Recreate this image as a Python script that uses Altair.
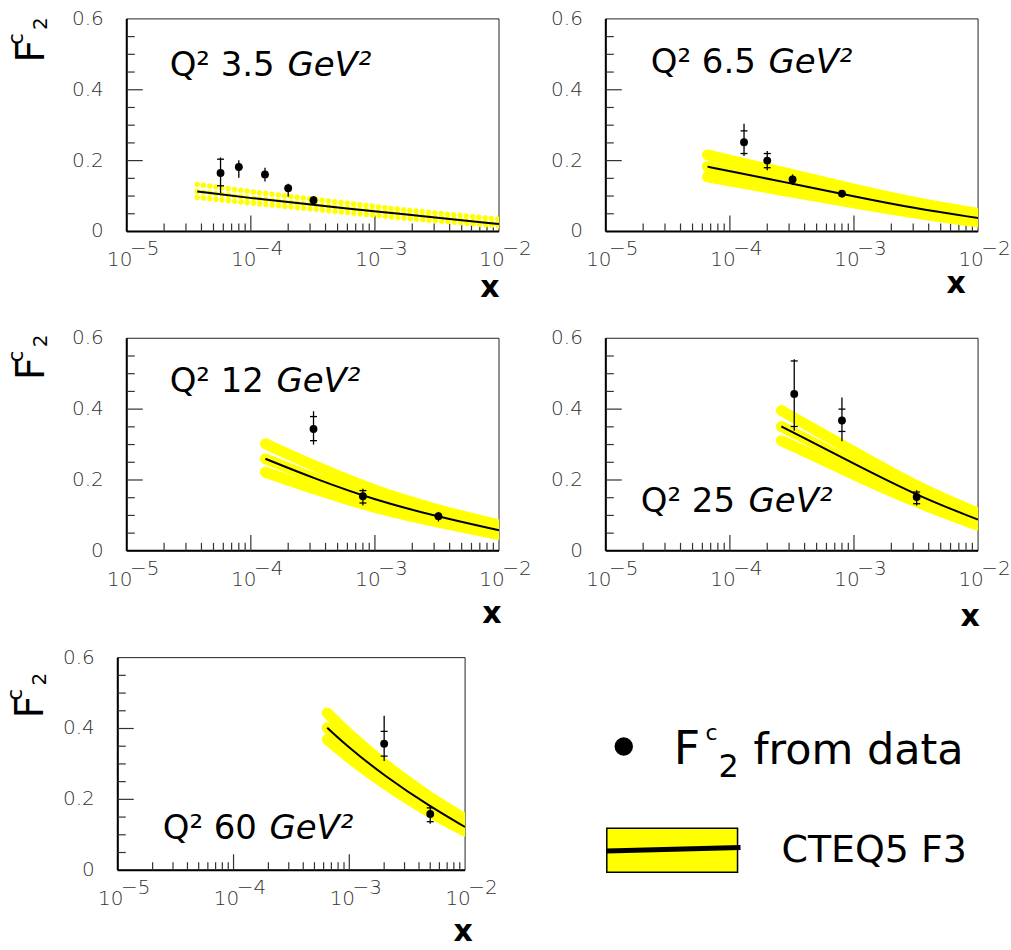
import altair as alt
import pandas as pd

FONT = "DejaVu Sans"
W, H = 373, 213
GAP = 107
YELLOW = "#ffff00"

# ---------------- axis ticks and labels ----------------
Y_MINOR = [0.05, 0.10, 0.15, 0.25, 0.30, 0.35, 0.45, 0.50, 0.55]
Y_MAJOR = [0.2, 0.4]
Y_LABEL_VALUES = [0.0, 0.2, 0.4, 0.6]
Y_LABEL_TEXT = ["0", "0.2", "0.4", "0.6"]
X_MINOR = [2e-5, 3e-5, 4e-5, 5e-5, 6e-5, 7e-5, 8e-5, 9e-5,
           2e-4, 3e-4, 4e-4, 5e-4, 6e-4, 7e-4, 8e-4, 9e-4,
           2e-3, 3e-3, 4e-3, 5e-3, 6e-3, 7e-3, 8e-3, 9e-3]
X_MAJOR = [1e-4, 1e-3]
X_DECADES = [1e-5, 1e-4, 1e-3, 1e-2]
X_EXPONENTS = ["\u22125", "\u22124", "\u22123", "\u22122"]

Q_LABELS = ["Q\u00b2 3.5", "Q\u00b2 6.5", "Q\u00b2 12", "Q\u00b2 25", "Q\u00b2 60"]
Q_UNIT = "GeV\u00b2"

# ---------------- data: F2c points (value, total error range, stat error ticks) ----------------
P1_X = [5.7e-5, 8.0e-5, 1.3e-4, 2.0e-4, 3.2e-4]
P1_V = [0.165, 0.182, 0.161, 0.122, 0.088]
P1_LO = [0.108, 0.152, 0.141, 0.098, 0.077]
P1_HI = [0.209, 0.201, 0.180, 0.135, 0.100]
P1_SLO = [0.129, 0.182, 0.161, 0.122, 0.088]
P1_SHI = [0.204, 0.182, 0.161, 0.122, 0.088]

P2_X = [1.3e-4, 2.0e-4, 3.2e-4, 8.0e-4]
P2_V = [0.252, 0.200, 0.147, 0.107]
P2_LO = [0.213, 0.173, 0.131, 0.096]
P2_HI = [0.304, 0.227, 0.161, 0.116]
P2_SLO = [0.220, 0.180, 0.147, 0.107]
P2_SHI = [0.284, 0.220, 0.147, 0.107]

P3_X = [3.2e-4, 8.0e-4, 3.25e-3]
P3_V = [0.344, 0.154, 0.098]
P3_LO = [0.300, 0.128, 0.083]
P3_HI = [0.394, 0.175, 0.110]
P3_SLO = [0.311, 0.135, 0.098]
P3_SHI = [0.379, 0.170, 0.098]

P4_X = [3.3e-4, 8.0e-4, 3.2e-3]
P4_V = [0.443, 0.368, 0.152]
P4_LO = [0.339, 0.309, 0.128]
P4_HI = [0.541, 0.433, 0.171]
P4_SLO = [0.351, 0.337, 0.133]
P4_SHI = [0.536, 0.400, 0.166]

P5_X = [2.0e-3, 5.0e-3]
P5_V = [0.357, 0.159]
P5_LO = [0.308, 0.131]
P5_HI = [0.436, 0.181]
P5_SLO = [0.322, 0.137]
P5_SHI = [0.392, 0.176]

# ---------------- data: CTEQ5 F3 prediction (central, upper, lower) ----------------
T1_X = [3.7e-5, 1e-4, 3e-4, 1e-3, 3e-3, 1e-2]
T1_MID = [0.113, 0.094, 0.076, 0.057, 0.040, 0.021]
T1_UP = [0.133, 0.112, 0.092, 0.070, 0.052, 0.035]
T1_DN = [0.096, 0.080, 0.064, 0.045, 0.030, 0.016]

T2_X = [6.6e-5, 1e-4, 3.2e-4, 1e-3, 3e-3, 1e-2]
T2_MID = [0.183, 0.170, 0.135, 0.099, 0.066, 0.038]
T2_UP = [0.216, 0.201, 0.161, 0.119, 0.082, 0.051]
T2_DN = [0.154, 0.143, 0.111, 0.080, 0.052, 0.027]

T3_X = [1.31e-4, 3.2e-4, 1e-3, 3.25e-3, 1e-2]
T3_MID = [0.260, 0.205, 0.143, 0.096, 0.058]
T3_UP = [0.302, 0.240, 0.168, 0.114, 0.073]
T3_DN = [0.222, 0.175, 0.120, 0.080, 0.046]

T4_X = [2.6e-4, 3.33e-4, 1e-3, 3.17e-3, 1e-2]
T4_MID = [0.351, 0.332, 0.246, 0.157, 0.088]
T4_UP = [0.396, 0.374, 0.280, 0.181, 0.106]
T4_DN = [0.311, 0.294, 0.215, 0.136, 0.072]

T5_X = [6.45e-4, 1e-3, 2e-3, 5e-3, 1e-2]
T5_MID = [0.402, 0.345, 0.267, 0.179, 0.122]
T5_UP = [0.444, 0.382, 0.298, 0.203, 0.145]
T5_DN = [0.369, 0.316, 0.244, 0.161, 0.110]

ONE = pd.DataFrame({"a": [0]})


def txt(text, x, y, size, align="left", baseline="alphabetic", angle=0,
        weight="normal", style="normal", color="black"):
    return alt.Chart(pd.DataFrame({"t": [text]})).mark_text(
        font=FONT, fontSize=size, align=align, baseline=baseline, angle=angle,
        fontWeight=weight, fontStyle=style, color=color
    ).encode(x=alt.value(x), y=alt.value(y), text="t:N")


def panel(px, pv, plo, phi, pslo, pshi, tx, tmid, tup, tdn, qtext, qpos, upos,
          xlab, x0=0, x1=W, dotted=False, ytitle=None, anchor=False, extra=None):
    xs = alt.Scale(type="log", domain=[1e-5, 1e-2], range=[x0, x1], nice=False)
    ys = alt.Scale(domain=[0, 0.6], nice=False, zero=False)

    def X(f):
        return alt.X(f, type="quantitative", scale=xs, axis=None)

    def Y(f):
        return alt.Y(f, type="quantitative", scale=ys, axis=None)

    layers = []
    if anchor:
        layers.append(alt.Chart(ONE).mark_rect(opacity=0).encode(
            x=alt.value(-127), x2=alt.value(0), y=alt.value(-18), y2=alt.value(0)))
    # frame
    layers.append(alt.Chart(ONE).mark_rect(fill="white", fillOpacity=0, stroke="#222", strokeWidth=1).encode(
        x=alt.value(x0), x2=alt.value(x1), y=alt.value(0), y2=alt.value(H)))
    layers.append(alt.Chart(ONE).mark_rule(color="black", strokeWidth=2).encode(
        x=alt.value(x0), y=alt.value(0), y2=alt.value(H)))
    layers.append(alt.Chart(ONE).mark_rule(color="black", strokeWidth=2).encode(
        x=alt.value(x0), x2=alt.value(x1), y=alt.value(H)))
    # inward ticks
    layers.append(alt.Chart(pd.DataFrame({"v": Y_MINOR})).mark_rule(color="#333", strokeWidth=1.2).encode(
        y=Y("v"), x=alt.value(x0), x2=alt.value(x0 + 8)))
    layers.append(alt.Chart(pd.DataFrame({"v": Y_MAJOR})).mark_rule(color="#333", strokeWidth=1.2).encode(
        y=Y("v"), x=alt.value(x0), x2=alt.value(x0 + 16)))
    layers.append(alt.Chart(pd.DataFrame({"x": X_MINOR})).mark_rule(color="#333", strokeWidth=1.2).encode(
        x=X("x"), y=alt.value(H), y2=alt.value(H - 8)))
    layers.append(alt.Chart(pd.DataFrame({"x": X_MAJOR})).mark_rule(color="#333", strokeWidth=1.2).encode(
        x=X("x"), y=alt.value(H), y2=alt.value(H - 16)))
    # tick labels
    layers.append(alt.Chart(pd.DataFrame({"v": Y_LABEL_VALUES, "t": Y_LABEL_TEXT})).mark_text(
        font=FONT, fontSize=20, align="right", baseline="middle", color="#333", fontWeight=200).encode(
        y=Y("v"), x=alt.value(x0 - 23), text="t:N"))
    dec = pd.DataFrame({"x": X_DECADES, "e": X_EXPONENTS, "b": ["10"] * 4})
    layers.append(alt.Chart(dec).mark_text(
        font=FONT, fontSize=20, align="center", baseline="middle", color="#333", fontWeight=200, dx=-7).encode(
        x=X("x"), y=alt.value(H + 29), text="b:N"))
    layers.append(alt.Chart(dec).mark_text(
        font=FONT, fontSize=20, align="center", baseline="middle", color="#333", fontWeight=200, dx=18).encode(
        x=X("x"), y=alt.value(H + 18), text="e:N"))

    # theory band
    n = len(tx)
    band = pd.DataFrame({"x": tx * 3, "v": tup + tmid + tdn, "r": ["u"] * n + ["m"] * n + ["d"] * n})
    if dotted:
        bm = alt.Chart(band).mark_line(color=YELLOW, strokeWidth=5.5, strokeCap="round",
                                       strokeDash=[0.01, 6.3], clip=True, interpolate="basis")
    else:
        bm = alt.Chart(band).mark_line(color=YELLOW, strokeWidth=11, strokeCap="round",
                                       strokeJoin="round", clip=True, interpolate="basis")
    layers.append(bm.encode(x=X("x"), y=Y("v"), detail="r:N"))
    layers.append(alt.Chart(pd.DataFrame({"x": tx, "v": tmid})).mark_line(
        color="black", strokeWidth=2, clip=True, interpolate="basis").encode(x=X("x"), y=Y("v")))

    # data points
    pts = pd.DataFrame({"x": px, "v": pv, "lo": plo, "hi": phi})
    layers.append(alt.Chart(pts).mark_rule(color="black", strokeWidth=1.3).encode(
        x=X("x"), y=Y("lo"), y2="hi"))
    ticks = pd.DataFrame({"x": px + px, "v": pslo + pshi})
    layers.append(alt.Chart(ticks).mark_tick(orient="horizontal", color="black", size=7,
                                             thickness=1.3, opacity=1).encode(x=X("x"), y=Y("v")))
    layers.append(alt.Chart(pts).mark_circle(color="black", size=62, opacity=1).encode(
        x=X("x"), y=Y("v")))

    # panel label
    layers.append(txt(qtext, qpos[0], qpos[1], 34))
    layers.append(txt(Q_UNIT, upos, qpos[1], 34, style="italic"))
    # axis title x
    layers.append(txt("x", xlab[0], xlab[1], 30, align="center", baseline="middle", weight="bold"))
    # axis title y:  F^c_2
    if ytitle is not None:
        fx, fy = ytitle
        layers.append(txt("F", fx, fy, 40, angle=270))
        layers.append(txt("c", fx - 21, fy - 18, 21, angle=270))
        layers.append(txt("2", fx + 3, fy - 33, 20, angle=270))
    if extra:
        layers.extend(extra)
    return alt.layer(*layers).properties(width=x1, height=H)


# legend (drawn with the bottom panel, positioned relative to it)
legend = [
    alt.Chart(ONE).mark_circle(color="black", size=340, opacity=1).encode(x=alt.value(498), y=alt.value(89)),
    txt("F", 548, 107, 46),
    txt("c", 580, 83, 22),
    txt("2", 593, 120, 32),
    txt("from data", 628, 107, 43),
    alt.Chart(ONE).mark_rect(fill=YELLOW, stroke="black", strokeWidth=1.5).encode(
        x=alt.value(481), x2=alt.value(612), y=alt.value(171), y2=alt.value(215)),
    alt.Chart(pd.DataFrame({"a": [0, 1], "px": [481, 615], "py": [193.7, 190.3]})).mark_line(
        color="black", strokeWidth=5).encode(
        x=alt.X("px:Q", scale=None, axis=None), y=alt.Y("py:Q", scale=None, axis=None)),
    txt("CTEQ5 F3", 656, 205, 38),
]

p1 = panel(P1_X, P1_V, P1_LO, P1_HI, P1_SLO, P1_SHI, T1_X, T1_MID, T1_UP, T1_DN,
           Q_LABELS[0], (43, 57), 161, (364, 270), dotted=True, ytitle=(-83, 44), anchor=True)
p2 = panel(P2_X, P2_V, P2_LO, P2_HI, P2_SLO, P2_SHI, T2_X, T2_MID, T2_UP, T2_DN,
           Q_LABELS[1], (45, 54), 163, (351, 266))
p3 = panel(P3_X, P3_V, P3_LO, P3_HI, P3_SLO, P3_SHI, T3_X, T3_MID, T3_UP, T3_DN,
           Q_LABELS[2], (43, 54), 150, (366, 276), ytitle=(-83, 42))
p4 = panel(P4_X, P4_V, P4_LO, P4_HI, P4_SLO, P4_SHI, T4_X, T4_MID, T4_UP, T4_DN,
           Q_LABELS[3], (35, 174), 143, (365, 279))
p5 = panel(P5_X, P5_V, P5_LO, P5_HI, P5_SLO, P5_SHI, T5_X, T5_MID, T5_UP, T5_DN,
           Q_LABELS[4], (36, 182), 143, (337, 275), x0=-9, x1=339, ytitle=(-84, 61),
           extra=legend)

chart = alt.concat(p1, p2, p3, p4, p5, columns=2, spacing=GAP, bounds="flush").properties(
    padding=0, background="white"
).configure_view(strokeWidth=0)

chart.save("out.html", embed_options={"renderer": "svg", "actions": False})
